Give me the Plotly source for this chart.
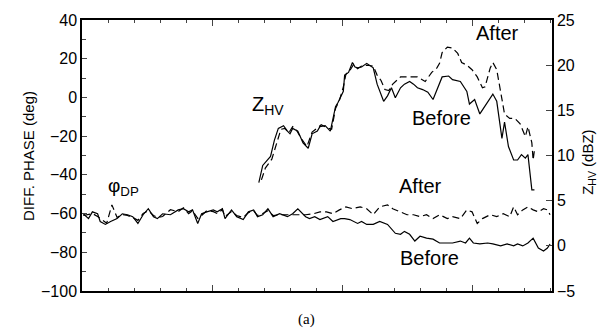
import plotly.graph_objects as go

# Differential phase (deg) along the range, before / after correction
phi_before_x = [0.1, 0.5, 0.8, 1.2, 1.4, 1.8, 2.2, 2.7, 3.1, 3.5, 3.9, 4.3, 4.7, 5.1, 5.5, 5.8,
                6.2, 6.8, 7.4, 7.8, 8.2, 8.5, 8.9, 9.2, 9.6, 10.1, 10.4, 10.8, 11.0, 11.5, 11.9,
                12.4, 12.8, 13.2, 13.5, 13.9, 14.3, 14.7, 15.2, 15.8, 16.2, 16.6, 17.2, 17.5,
                17.9, 18.3, 18.9, 19.3, 19.9, 20.2, 20.6, 21.2, 21.5, 21.9, 22.4, 22.9, 23.5,
                24.1, 24.5, 24.8, 25.2, 25.6, 26.0, 26.5, 27.0, 27.5, 28.1, 28.5, 29.1, 29.5,
                29.8, 30.1, 30.6, 31.2, 31.6, 32.2, 32.7, 33.2, 33.5, 33.9, 34.3, 34.7, 35.1,
                35.5, 35.8, 36.0]
phi_before = [-60.1, -62.6, -59.1, -60.1, -64.1, -65.6, -64.1, -62.6, -60.1, -60.6, -61.6, -65.1,
              -60.6, -57.5, -61.6, -62.6, -60.1, -60.6, -58.1, -57.5, -59.1, -58.1, -65.1, -60.1,
              -59.1, -58.1, -59.1, -57.5, -62.6, -58.1, -61.6, -63.1, -59.1, -58.1, -61.6, -60.6,
              -57.5, -61.6, -60.1, -61.6, -60.1, -57.5, -61.6, -62.6, -61.6, -63.1, -61.6, -64.1,
              -62.6, -62.6, -63.1, -65.1, -64.1, -65.6, -65.6, -64.1, -65.6, -70.2, -70.7, -69.2,
              -70.7, -74.2, -71.7, -72.7, -73.2, -75.2, -75.2, -75.2, -74.2, -75.2, -72.7, -75.2,
              -75.7, -75.2, -75.7, -76.7, -75.7, -76.7, -75.7, -76.7, -75.2, -72.7, -77.8, -79.3,
              -77.8, -75.7]

phi_after_x = [0.1, 0.5, 0.8, 1.2, 1.5, 1.9, 2.3, 2.7, 3.1, 3.5, 3.9, 4.3, 4.7, 5.1, 5.5, 5.8,
               6.2, 6.8, 7.4, 7.8, 8.2, 8.5, 8.9, 9.2, 9.6, 10.1, 10.4, 10.8, 11.0, 11.5, 11.9,
               12.4, 12.8, 13.2, 13.5, 13.9, 14.3, 14.7, 15.2, 17.2, 17.8, 18.3, 18.8, 19.3,
               19.8, 20.3, 20.8, 21.4, 21.9, 22.4, 22.9, 23.5, 23.9, 24.5, 25.0, 25.5, 26.0,
               26.5, 27.0, 27.5, 28.1, 28.5, 29.1, 29.6, 30.0, 30.4, 30.8, 31.4, 31.9, 32.4,
               32.9, 33.2, 33.5, 33.9, 34.3, 34.7, 35.1, 35.5, 35.8, 36.0]
phi_after = [-61.0, -60.5, -60.0, -61.5, -63.0, -65.0, -55.5, -62.0, -60.5, -61.0, -62.0, -63.5,
             -60.0, -58.5, -61.0, -62.0, -61.5, -58.0, -59.0, -57.0, -60.0, -58.5, -62.5, -61.0,
             -58.5, -59.0, -60.0, -58.0, -61.5, -59.0, -61.0, -62.0, -59.5, -58.5, -61.0, -60.0,
             -58.5, -61.0, -60.6, -60.6, -60.1, -59.1, -59.1, -60.1, -58.1, -56.5, -57.5, -56.5,
             -57.5, -60.6, -56.5, -55.5, -57.5, -59.1, -60.6, -60.6, -61.6, -60.6, -62.6, -60.6,
             -62.6, -61.6, -62.6, -58.1, -59.1, -65.1, -62.6, -60.6, -61.6, -60.1, -61.6, -56.5,
             -60.6, -58.1, -56.5, -58.1, -59.1, -57.5, -58.1, -60.6]

# Reflectivity Z_HV (dBZ), before / after correction
zhv_before_x = [13.6, 13.9, 14.5, 14.8, 15.1, 15.5, 15.8, 16.0, 16.2, 16.6, 17.0, 17.4, 17.7,
                18.1, 18.3, 18.7, 19.1, 19.5, 19.7, 20.1, 20.2, 20.5, 20.8, 21.0, 21.2, 21.5,
                21.9, 22.4, 22.7, 22.9, 23.2, 23.5, 23.8, 24.1, 24.5, 24.8, 25.2, 25.5, 25.8,
                26.2, 26.6, 27.0, 27.3, 27.7, 28.2, 28.5, 29.1, 29.6, 29.8, 30.2, 30.6, 31.0,
                31.6, 31.9, 32.3, 32.5, 32.8, 33.2, 33.5, 33.8, 34.1, 34.3, 34.6, 34.8]
zhv_before = [7.0, 8.9, 9.9, 11.7, 13.0, 13.3, 12.7, 12.4, 13.0, 12.7, 11.4, 10.8, 12.4, 12.7,
              13.2, 13.3, 12.7, 15.4, 15.9, 17.1, 18.9, 19.2, 20.3, 19.8, 19.7, 19.8, 20.2, 19.7,
              17.9, 17.1, 16.0, 16.6, 17.5, 16.4, 17.5, 17.9, 18.2, 17.9, 17.5, 17.3, 17.0, 16.2,
              17.3, 18.7, 18.8, 18.4, 18.2, 17.1, 15.7, 16.2, 14.6, 15.5, 16.8, 16.0, 11.9, 13.7,
              11.0, 9.5, 9.5, 10.1, 9.7, 10.1, 6.2, 6.2]

zhv_after_x = [13.8, 14.1, 14.6, 15.0, 15.3, 15.6, 15.9, 16.2, 16.5, 16.9, 17.3, 17.7, 18.0,
               18.4, 18.8, 19.2, 19.5, 19.8, 20.1, 20.3, 20.6, 20.9, 21.2, 21.5, 21.9, 22.4,
               22.7, 23.0, 23.3, 23.6, 23.9, 24.2, 24.5, 25.2, 25.8, 26.4, 26.9, 27.3, 27.5,
               27.7, 28.1, 28.5, 28.9, 29.2, 29.6, 30.0, 30.4, 30.8, 31.0, 31.4, 31.6, 31.9,
               32.2, 32.5, 32.9, 33.3, 33.7, 34.1, 34.3, 34.6, 34.7, 34.8]
zhv_after = [7.3, 8.6, 9.6, 11.5, 12.9, 13.0, 12.5, 13.2, 12.8, 11.8, 11.0, 12.6, 12.9, 13.4,
             13.1, 12.9, 15.2, 16.1, 17.6, 19.0, 19.4, 20.1, 19.6, 19.9, 20.0, 19.9, 18.9, 18.3,
             17.3, 17.2, 17.9, 18.3, 18.7, 18.7, 18.7, 18.2, 19.2, 19.7, 20.2, 21.4, 22.0, 21.9,
             21.3, 20.3, 20.0, 19.5, 18.7, 17.5, 17.6, 19.7, 20.3, 19.5, 16.8, 14.6, 14.1, 14.1,
             13.5, 12.1, 13.2, 11.4, 9.5, 10.6]

LINE_W = 1.2
DASH = "7px,4px"
FONT = "Liberation Sans, Arial, sans-serif"

fig = go.Figure()
fig.add_trace(go.Scatter(x=phi_before_x, y=phi_before, mode="lines",
                         line=dict(color="black", width=LINE_W), yaxis="y"))
fig.add_trace(go.Scatter(x=phi_after_x, y=phi_after, mode="lines",
                         line=dict(color="black", width=LINE_W, dash=DASH), yaxis="y"))
fig.add_trace(go.Scatter(x=zhv_before_x, y=zhv_before, mode="lines",
                         line=dict(color="black", width=LINE_W), yaxis="y2"))
fig.add_trace(go.Scatter(x=zhv_after_x, y=zhv_after, mode="lines",
                         line=dict(color="black", width=LINE_W, dash=DASH), yaxis="y2"))

L, R, T, B = 82, 51, 14, 41
W, H = 603, 332
PW, PH = W - L - R, H - T - B


def px(x):
    return (x - L) / PW


def py(y):
    return (H - B - y) / PH


def note(text, x, y, size=20, angle=0, family=FONT, xanchor="center"):
    fig.add_annotation(text=text, x=px(x), y=py(y), xref="paper", yref="paper",
                       showarrow=False, textangle=angle, xanchor=xanchor, yanchor="middle",
                       font=dict(family=family, size=size, color="black"))


note("Z<sub>HV</sub>", 250, 101, size=20, xanchor="left")
note("After", 497, 27)
note("Before", 441, 114)
note("After", 420, 184)
note("Before", 429, 257)
note("φ<sub>DP</sub>", 106, 185, size=19, xanchor="left")
note("DIFF. PHASE (deg)", 29, 153, size=15, angle=-90)
note("Z<sub>HV</sub> (dBZ)", 589, 160, size=15, angle=-90)
note("(a)", 306, 320, size=15, family="Liberation Serif, Times New Roman, serif")

fig.update_layout(
    width=W, height=H,
    margin=dict(l=L, r=R, t=T, b=B),
    paper_bgcolor="white", plot_bgcolor="white",
    showlegend=False,
    font=dict(family=FONT, size=16, color="black"),
    xaxis=dict(range=[0, 36.15], showgrid=False, zeroline=False, showline=True,
               linecolor="black", linewidth=1.5, mirror="ticks", ticks="inside",
               ticklen=6, tickwidth=1, dtick=10, tick0=0, showticklabels=False,
               minor=dict(dtick=2, ticks="inside", ticklen=3, tickwidth=1, showgrid=False)),
    yaxis=dict(range=[-100, 40], showgrid=False, zeroline=False, showline=True,
               linecolor="black", linewidth=1.5, ticks="inside", ticklen=5, tickwidth=1,
               dtick=20, tick0=0, tickfont=dict(size=16),
               minor=dict(dtick=10, ticks="inside", ticklen=4, tickwidth=1, showgrid=False)),
    yaxis2=dict(range=[-5, 25], overlaying="y", side="right", showgrid=False,
                zeroline=False, showline=True, linecolor="black", linewidth=1.5,
                ticks="inside", ticklen=6, tickwidth=1, dtick=5, tick0=0,
                tickfont=dict(size=16)),
)

fig.write_html("out.html")
